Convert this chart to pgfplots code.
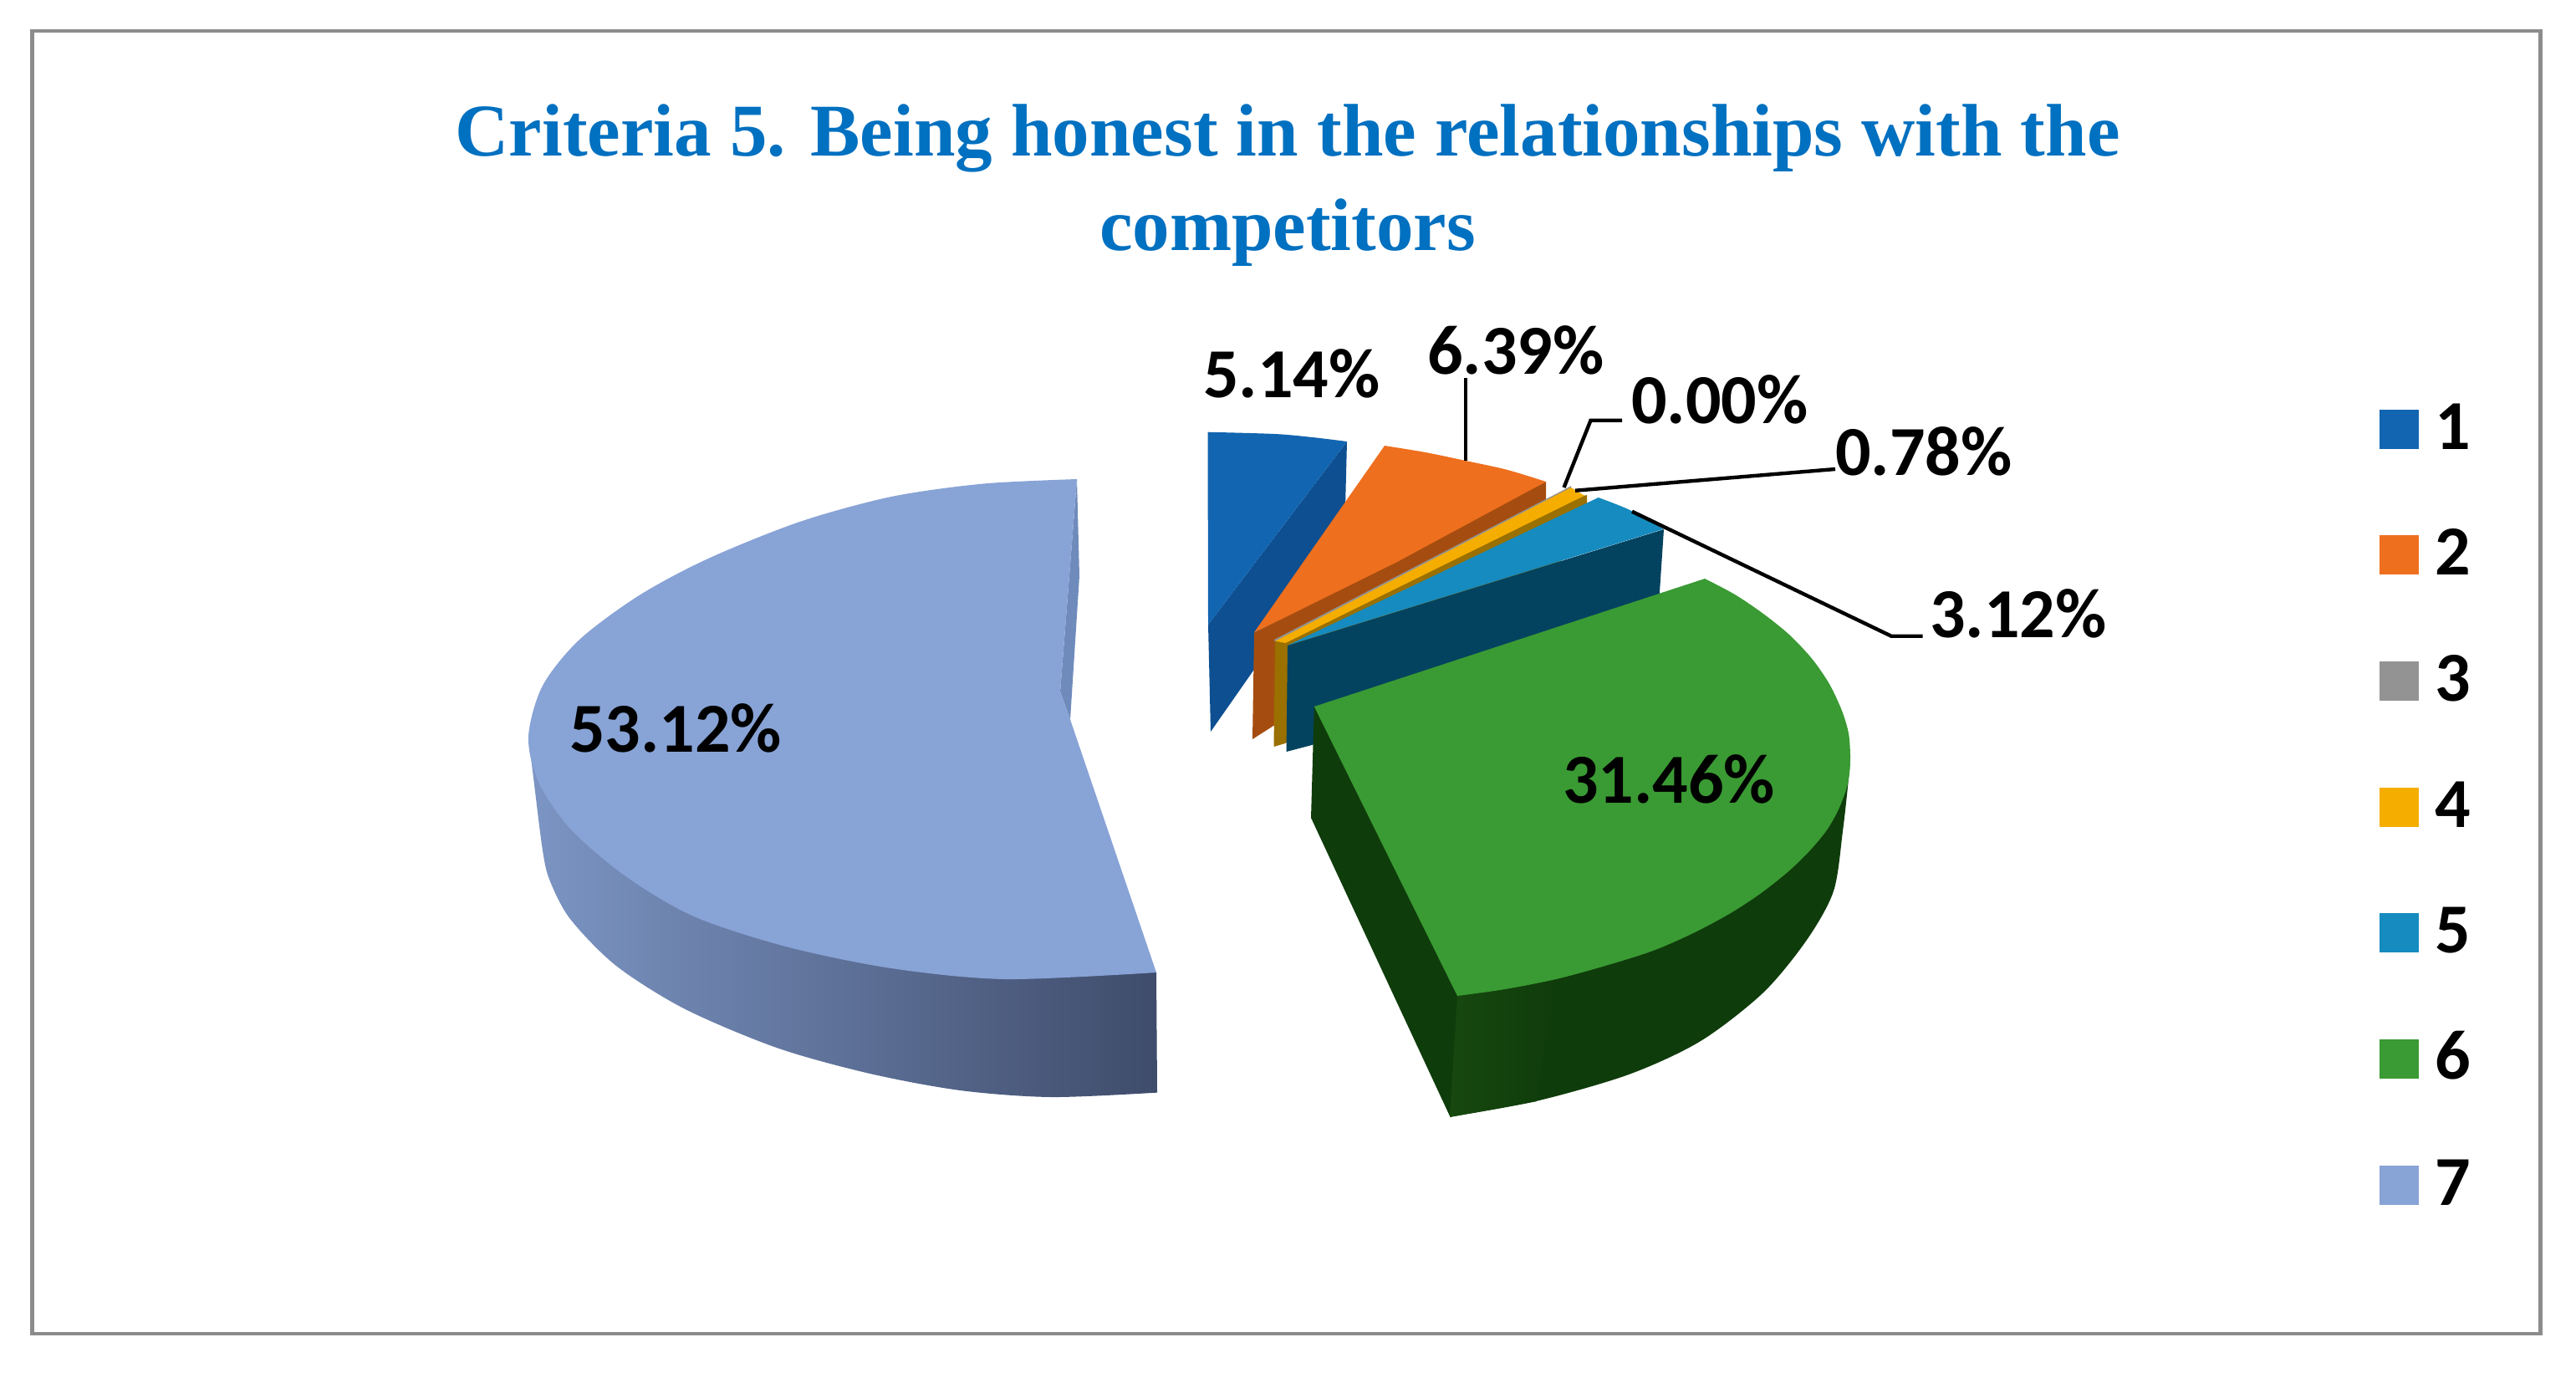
\documentclass[border=0pt]{standalone}
\usepackage{fontspec}
\setmainfont{Carlito}
\newfontfamily\titlefont{Liberation Serif}
\usepackage{pgfplots}
\pgfplotsset{compat=1.18}

\definecolor{sOne}{HTML}{1265B0}
\definecolor{sOneD}{HTML}{0D4F91}
\definecolor{sTwo}{HTML}{EE6F1E}
\definecolor{sTwoD}{HTML}{A54D10}
\definecolor{sThree}{HTML}{939393}
\definecolor{sFour}{HTML}{F5AD00}
\definecolor{sFourD}{HTML}{9A7000}
\definecolor{sFive}{HTML}{158BBF}
\definecolor{sFiveD}{HTML}{04435F}
\definecolor{sSix}{HTML}{3A9A33}
\definecolor{sSixD}{HTML}{0F3C0B}
\definecolor{sSixM}{HTML}{17480F}
\definecolor{sSeven}{HTML}{88A3D6}
\definecolor{sSevenW}{HTML}{6F8BBC}
\definecolor{sSevenL}{HTML}{7C95C4}
\definecolor{sSevenR}{HTML}{3F4C6B}
\definecolor{titleblue}{HTML}{0070C0}
\definecolor{framegray}{HTML}{8C8C8C}

\tikzset{
    face/.style={draw=none, fill=#1},
    lbl/.style={font=\fontsize{21}{25}\selectfont\bfseries, inner sep=0pt},
    leader/.style={black, line width=1.1pt},
    key/.style={anchor=base, font=\fontsize{21}{25}\selectfont\bfseries, inner sep=0pt},
    ttl/.style={anchor=base, text=titleblue, inner sep=0pt, font=\titlefont\fontsize{22.25}{28}\selectfont\bfseries},
}

\begin{document}
\begin{tikzpicture}
\begin{axis}[
    scale only axis,
    width=770.25pt,
    height=410.25pt,
    xmin=0, xmax=3081,
    ymin=0, ymax=1641,
    y dir=reverse,
    axis lines=none,
    clip=false,
]

% page and frame
\addplot[face=white] coordinates {(0,0) (3081,0) (3081,1641) (0,1641)} -- cycle;
\addplot[draw=framegray, line width=1.1pt] coordinates {(38.5,36.7) (3038.5,36.7) (3038.5,1595) (38.5,1595)} -- cycle;

% slice 1
\addplot[face=sOneD] coordinates {(1445,747) (1611,528) (1608,646) (1448,875)} -- cycle;
\addplot[face=sOne, smooth] coordinates {(1444.5,516.7) (1525,519) (1570,523) (1611,528)} -- (axis cs:1445,747) -- cycle;

% slice 2
\addplot[face=sTwoD] coordinates {(1500,757) (1849,576) (1849,660) (1498,884)} -- cycle;
\addplot[face=sTwo, smooth] coordinates {(1656,533) (1705,541) (1753,551) (1802,561.7) (1849,576)} -- (axis cs:1671,672) -- (axis cs:1499.7,756.7) -- cycle;

% slice 3 (0.00%) shows as a grey sliver
\addplot[face=sThree] coordinates {(1524,765) (1870,586) (1879,581) (1879,585) (1526,770)} -- cycle;

% slice 4
\addplot[face=sFourD] coordinates {(1525,767) (1895,592.7) (1898,592) (1898,650) (1537,889) (1523.5,893)} -- cycle;
\addplot[face=sFour] coordinates {(1525.4,766.7) (1879,583) (1895,592.7) (1537.5,769)} -- cycle;

% slice 5
\addplot[face=sFiveD] coordinates {(1540,772) (1990,633) (1985,708) (1985,760) (1569,891) (1538.5,899)} -- cycle;
\addplot[face=sFive, smooth] coordinates {(1911.7,595) (1949.5,610) (1989.7,632.7)} -- (axis cs:1540,771.7) -- cycle;

% slice 6
\addplot[face=sSixD, smooth] coordinates {(1734.4,1335.6) (1838,1316.7) (1948,1285) (2034,1245) (2109,1187) (2161,1124) (2193,1065.6) (2204,994) (2211,931) (2213,904)} -- (axis cs:1571.8,845) -- (axis cs:1568,978) -- cycle;
\addplot[draw=none, left color=sSixM, right color=sSixD] coordinates {(1743,1191) (1861,1171) (1838,1317) (1734,1336)} -- cycle;
\addplot[face=sSix, smooth] coordinates {(2039,692) (2075,711) (2109,734) (2140,759) (2167,787.6) (2188,818) (2203,850) (2211,877) (2213,904) (2212,925) (2208,944.6) (2198,970) (2184,994) (2163,1019) (2138,1043) (2105,1069) (2069,1092.5) (2025,1116) (1977,1137) (1920,1155) (1861,1171) (1800,1183) (1743,1191)} -- (axis cs:1571.8,845) -- cycle;

% slice 7
\addplot[draw=none, left color=sSevenL, right color=sSevenR, smooth] coordinates {(632,881) (638,930) (649,1017) (657.6,1053) (682,1099) (737,1155) (819,1206.6) (929,1253) (1039,1283.6) (1148.5,1304) (1258,1312) (1384,1306.6)} -- (axis cs:1383,1163) -- cycle;
\addplot[face=sSevenW] coordinates {(1288,573) (1291,689) (1280,860.5) (1268,827)} -- cycle;
\addplot[face=sSeven, smooth] coordinates {(1288,573) (1176,578.5) (1066,594) (956.5,624) (847,668) (764.5,712) (693,765) (649,820) (632,881) (644,935) (682,991) (748,1047.7) (830,1096) (940,1132) (1066,1158) (1203,1171) (1383,1163)} -- (axis cs:1280,860.5) -- (axis cs:1268,827) -- cycle;

% leader lines
\addplot[leader] coordinates {(1753,452) (1753,551)};
\addplot[leader] coordinates {(1940,502.7) (1902.5,502.7) (1870.5,583)};
\addplot[leader] coordinates {(1884,586.7) (2195,561)};
\addplot[leader] coordinates {(1952,611.7) (2262,760.7) (2299.5,760.7)};

% data labels
\node[lbl] at (axis cs:808,871) {53.12\%};
\node[lbl] at (axis cs:1996,932) {31.46\%};
\node[lbl] at (axis cs:1545,447) {5.14\%};
\node[lbl] at (axis cs:1813,419) {6.39\%};
\node[lbl] at (axis cs:2057,478) {0.00\%};
\node[lbl] at (axis cs:2301,540) {0.78\%};
\node[lbl] at (axis cs:2414,734) {3.12\%};

% legend
\addplot[face=sOne] coordinates {(2846,490) (2893,490) (2893,537) (2846,537)} -- cycle;
\addplot[face=sTwo] coordinates {(2846,640) (2893,640) (2893,687) (2846,687)} -- cycle;
\addplot[face=sThree] coordinates {(2846,791) (2893,791) (2893,838) (2846,838)} -- cycle;
\addplot[face=sFour] coordinates {(2846,942) (2893,942) (2893,989) (2846,989)} -- cycle;
\addplot[face=sFive] coordinates {(2846,1092) (2893,1092) (2893,1139) (2846,1139)} -- cycle;
\addplot[face=sSix] coordinates {(2846,1243) (2893,1243) (2893,1290) (2846,1290)} -- cycle;
\addplot[face=sSeven] coordinates {(2846,1394) (2893,1394) (2893,1441) (2846,1441)} -- cycle;
\node[key] at (axis cs:2934,537) {1};
\node[key] at (axis cs:2934,687) {2};
\node[key] at (axis cs:2934,838) {3};
\node[key] at (axis cs:2934,989) {4};
\node[key] at (axis cs:2934,1139) {5};
\node[key] at (axis cs:2934,1290) {6};
\node[key] at (axis cs:2934,1441) {7};

% title
\node[ttl] at (axis cs:1540,186) {Criteria 5. Being honest in the relationships with the};
\node[ttl] at (axis cs:1540,299) {competitors};

\end{axis}
\end{tikzpicture}
\end{document}
